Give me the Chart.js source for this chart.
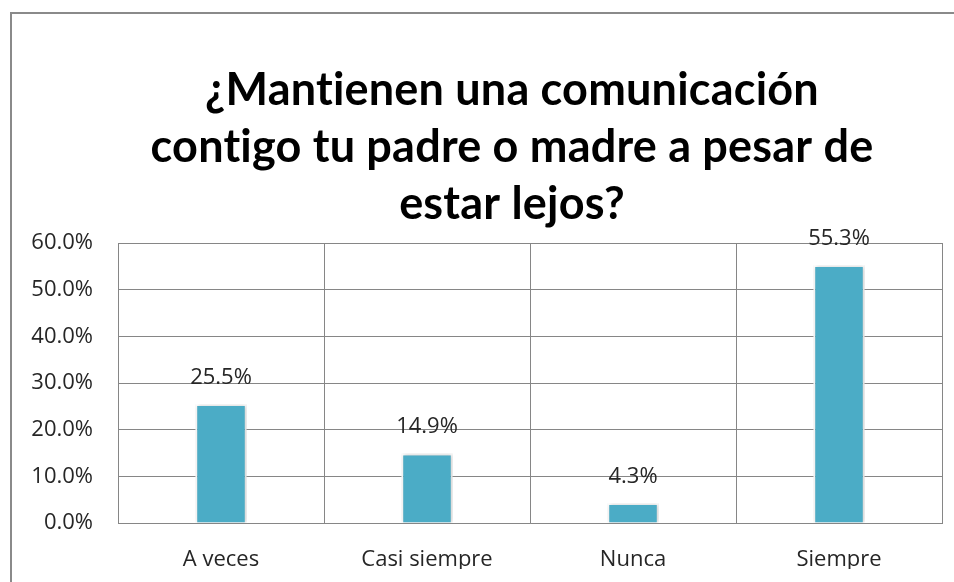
<!DOCTYPE html>
<html>
<head>
<meta charset="utf-8">
<script src="https://cdn.jsdelivr.net/npm/chart.js@4.4.1/dist/chart.umd.min.js"></script>
<style>
  html, body { margin: 0; padding: 0; background: #fff; overflow: hidden; }
  #frame {
    position: absolute; left: 10px; top: 12px; width: 1000px; height: 1000px;
    border-left: 2px solid #8a8a8a; border-top: 2px solid #8a8a8a;
  }
  canvas { position: absolute; left: 0; top: 0; }
</style>
</head>
<body>
<div id="frame"></div>
<canvas id="chart" width="954" height="582"></canvas>
<script>
// chart data
const titleLines = ['¿Mantienen una comunicación', 'contigo tu padre o madre a pesar de', 'estar lejos?'];
const categories = ['A veces', 'Casi siempre', 'Nunca', 'Siempre'];
const percentages = [25.5, 14.9, 4.3, 55.3];
const yTicks = [0, 10, 20, 30, 40, 50, 60];

const gridColor = '#868686';
const textColor = '#262626';
const labelFont = { family: 'Open Sans', size: 22 };

// title drawn by hand so it can sit a bit left of the plot centre, like the original
const titlePlugin = {
  id: 'bigTitle',
  afterDraw(chart) {
    const ctx = chart.ctx;
    ctx.save();
    ctx.font = 'bold 45px Lato';
    // tiny spacing keeps Lato from joining "ti" into a ligature
    if ('letterSpacing' in ctx) ctx.letterSpacing = '0.2px';
    ctx.fillStyle = '#000';
    ctx.textAlign = 'center';
    ctx.textBaseline = 'alphabetic';
    titleLines.forEach((line, i) => {
      ctx.fillText(line, 512, 105 + i * 57);
    });
    ctx.restore();
  }
};

// soft shadow under the bars + value labels on top
const barExtras = {
  id: 'barExtras',
  beforeDatasetsDraw(chart) {
    const ctx = chart.ctx;
    ctx.save();
    ctx.shadowColor = 'rgba(0,0,0,0.22)';
    ctx.shadowBlur = 4;
    ctx.shadowOffsetX = 1;
    ctx.shadowOffsetY = 0;
  },
  afterDatasetsDraw(chart) {
    const ctx = chart.ctx;
    ctx.restore();
    ctx.save();
    ctx.font = labelFont.size + 'px "' + labelFont.family + '"';
    ctx.fillStyle = textColor;
    ctx.textAlign = 'center';
    ctx.textBaseline = 'alphabetic';
    chart.getDatasetMeta(0).data.forEach((bar, i) => {
      ctx.fillText(percentages[i].toFixed(1) + '%', bar.x, bar.y - 20);
    });
    ctx.restore();
  }
};

new Chart(document.getElementById('chart').getContext('2d'), {
  type: 'bar',
  data: {
    labels: categories,
    datasets: [{
      data: percentages,
      backgroundColor: '#4bacc6',
      borderColor: '#ffffff',
      borderWidth: 2,
      barPercentage: 0.25,
      categoryPercentage: 1
    }]
  },
  options: {
    responsive: false,
    animation: false,
    layout: { padding: { top: 243, right: 12, bottom: 13, left: 29 } },
    plugins: {
      legend: { display: false },
      title: { display: false },
      tooltip: { enabled: false }
    },
    scales: {
      x: {
        afterFit(scale) { scale.height = 46; },
        grid: { color: gridColor, lineWidth: 1, drawTicks: false, offset: true },
        border: { color: gridColor, width: 1 },
        ticks: { color: textColor, font: labelFont, padding: 24, maxRotation: 0 }
      },
      y: {
        min: yTicks[0],
        max: yTicks[yTicks.length - 1],
        afterFit(scale) { scale.width = 89; },
        afterBuildTicks(scale) {
          scale.ticks = yTicks.map(v => ({ value: v }));
        },
        grid: { color: gridColor, lineWidth: 1, drawTicks: false },
        border: { color: gridColor, width: 1 },
        ticks: {
          color: textColor,
          font: labelFont,
          padding: 25,
          callback: v => v.toFixed(1) + '%'
        }
      }
    }
  },
  plugins: [titlePlugin, barExtras]
});
</script>
</body>
</html>
